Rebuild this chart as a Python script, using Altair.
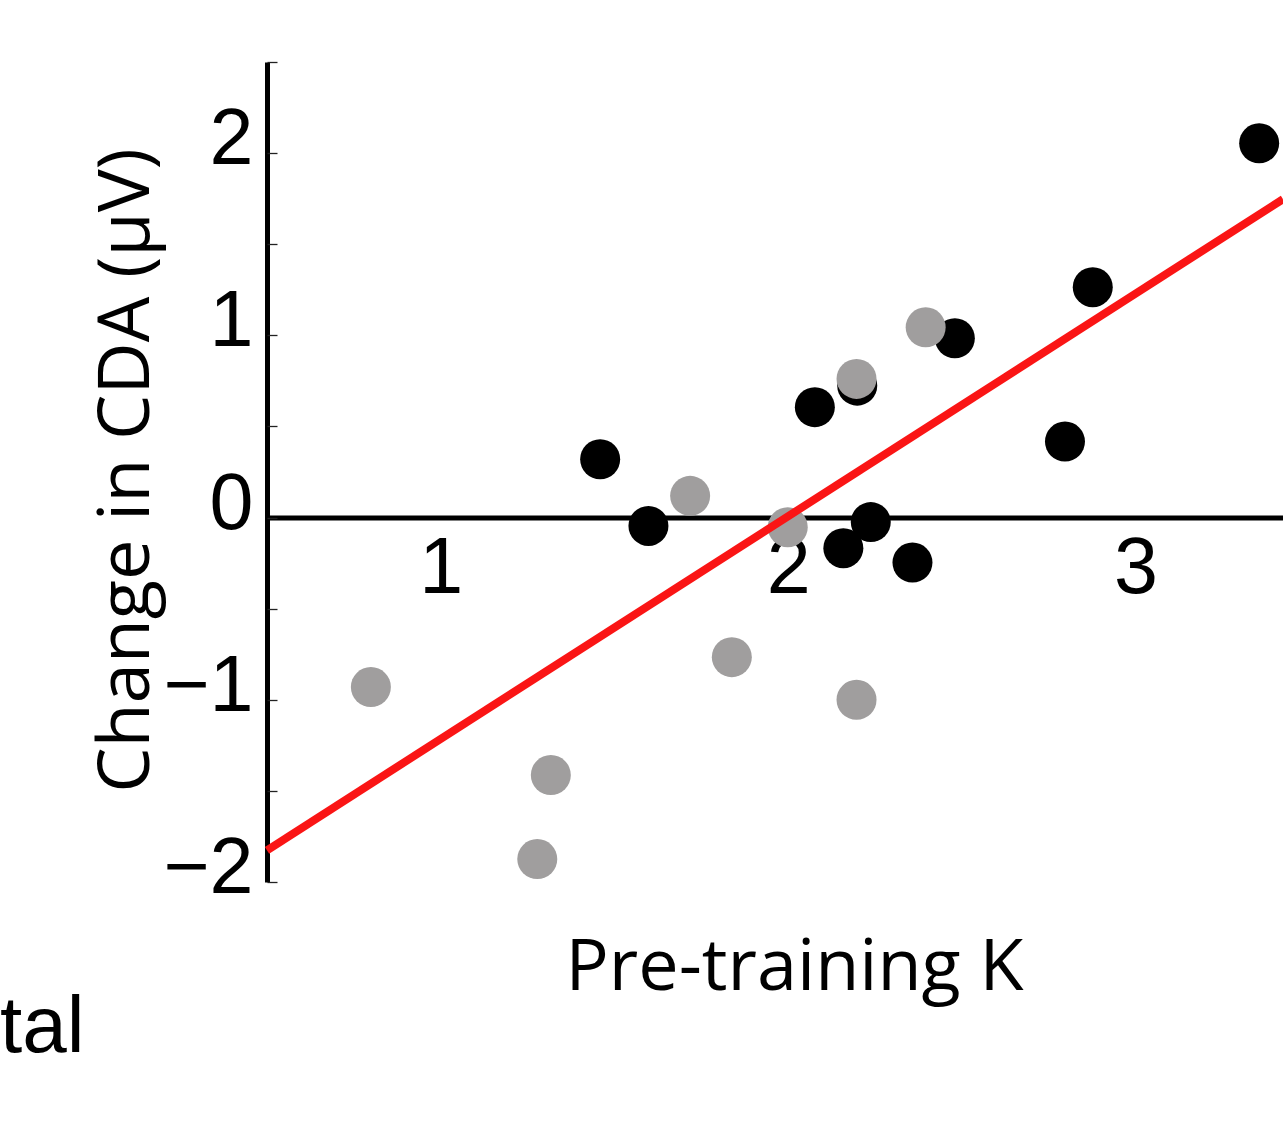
import altair as alt
import pandas as pd

# Pre-training capacity (K) and change in CDA amplitude (µV) for each subject
black_k = [1.459, 1.598, 2.077, 2.199, 2.159, 2.238, 2.358, 2.480, 2.797, 2.877, 3.356]
black_cda = [0.320, -0.046, 0.606, 0.724, -0.168, -0.025, -0.247, 0.984, 0.417, 1.264, 2.054]
grey_k = [0.799, 1.317, 1.278, 1.718, 1.999, 1.838, 2.197, 2.197, 2.396]
grey_cda = [-0.930, -1.413, -1.874, 0.119, -0.053, -0.766, 0.761, -1.000, 1.044]

groups = ["black", "grey"]
group_colors = ["#000000", "#a09e9e"]

x_domain = [0.5, 3.4246]
y_domain = [-2.0, 2.5]
x_tick_values = [1, 2, 3]
y_label_values = [-2, -1, 0, 1, 2]
y_tick_values = [-2, -1.5, -1, -0.5, 0, 0.5, 1, 1.5, 2, 2.5]

x_title = "Pre-training K"
y_title = "Change in CDA (\u03bcV)"
side_text = ["tal"]

W, H = 1016, 820

df = pd.DataFrame({
    "k": black_k + grey_k,
    "cda": black_cda + grey_cda,
    "group": ["black"] * len(black_k) + ["grey"] * len(grey_k),
})

x_scale = alt.Scale(domain=x_domain, nice=False, zero=False)
y_scale = alt.Scale(domain=y_domain, nice=False, zero=False)

# x axis sits on the zero line of the y scale
zero_offset = (y_domain[1] / (y_domain[1] - y_domain[0])) * H - H

label_font = "Liberation Sans"
title_font = "Open Sans"

points = alt.Chart(df).mark_circle(size=1600, opacity=1).encode(
    x=alt.X("k:Q", scale=x_scale, axis=alt.Axis(
        orient="bottom", offset=zero_offset, values=x_tick_values,
        ticks=False, tickSize=0, grid=False,
        domainColor="black", domainWidth=5,
        labelFont=label_font, labelFontSize=79, labelColor="black",
        labelPadding=13, labelFlush=False, labelOverlap=False,
        title=x_title, titleFont=title_font, titleFontSize=72,
        titleFontWeight="normal", titleColor="black",
        titleX=527, titleY=472, titleBaseline="alphabetic", titleAlign="center",
    )),
    y=alt.Y("cda:Q", scale=y_scale, axis=alt.Axis(
        orient="left", values=y_label_values,
        ticks=False, tickSize=0, grid=False,
        domainColor="black", domainWidth=5,
        labelFont=label_font, labelFontSize=79, labelColor="black",
        labelPadding=14, labelBaseline="alphabetic", labelOffset=10.5,
        labelFlush=False, labelOverlap=False,
        title=y_title, titleFont=title_font, titleFontSize=72,
        titleFontWeight="normal", titleColor="black", titleAngle=270,
        titleX=-119, titleY=408, titleBaseline="alphabetic", titleAlign="center",
    )),
    color=alt.Color("group:N", scale=alt.Scale(domain=groups, range=group_colors), legend=None),
    order=alt.Order("order_key:Q"),
).transform_calculate(order_key="datum.group === 'black' ? 0 : 1")

# least-squares fit over all subjects; its y axis carries the inward ticks
fit = alt.Chart(df).transform_regression(
    "k", "cda", extent=x_domain
).mark_line(color="#fa1515", strokeWidth=8).encode(
    x=alt.X("k:Q", scale=x_scale, axis=None),
    y=alt.Y("cda:Q", scale=y_scale, axis=alt.Axis(
        orient="right", offset=-W, values=y_tick_values,
        labels=False, domain=False, grid=False,
        ticks=True, tickSize=10, tickWidth=1.3, tickColor="#222222",
        title="",
    )),
)

side = alt.Chart(pd.DataFrame({"label": side_text})).mark_text(
    font=label_font, fontSize=80, color="black", align="left", baseline="alphabetic"
).encode(
    text="label:N",
    x=alt.value(0 - 267),
    y=alt.value(1052 - 62),
)

chart = alt.layer(points, fit, side).resolve_axis(
    x="independent", y="independent"
).properties(
    width=W, height=H,
    padding={"left": 267, "top": 62, "right": 0, "bottom": 247},
    autosize=alt.AutoSizeParams(type="none"),
    background="white",
).configure_view(strokeWidth=0)

chart.save("out.html", embed_options={"renderer": "svg", "actions": False})
